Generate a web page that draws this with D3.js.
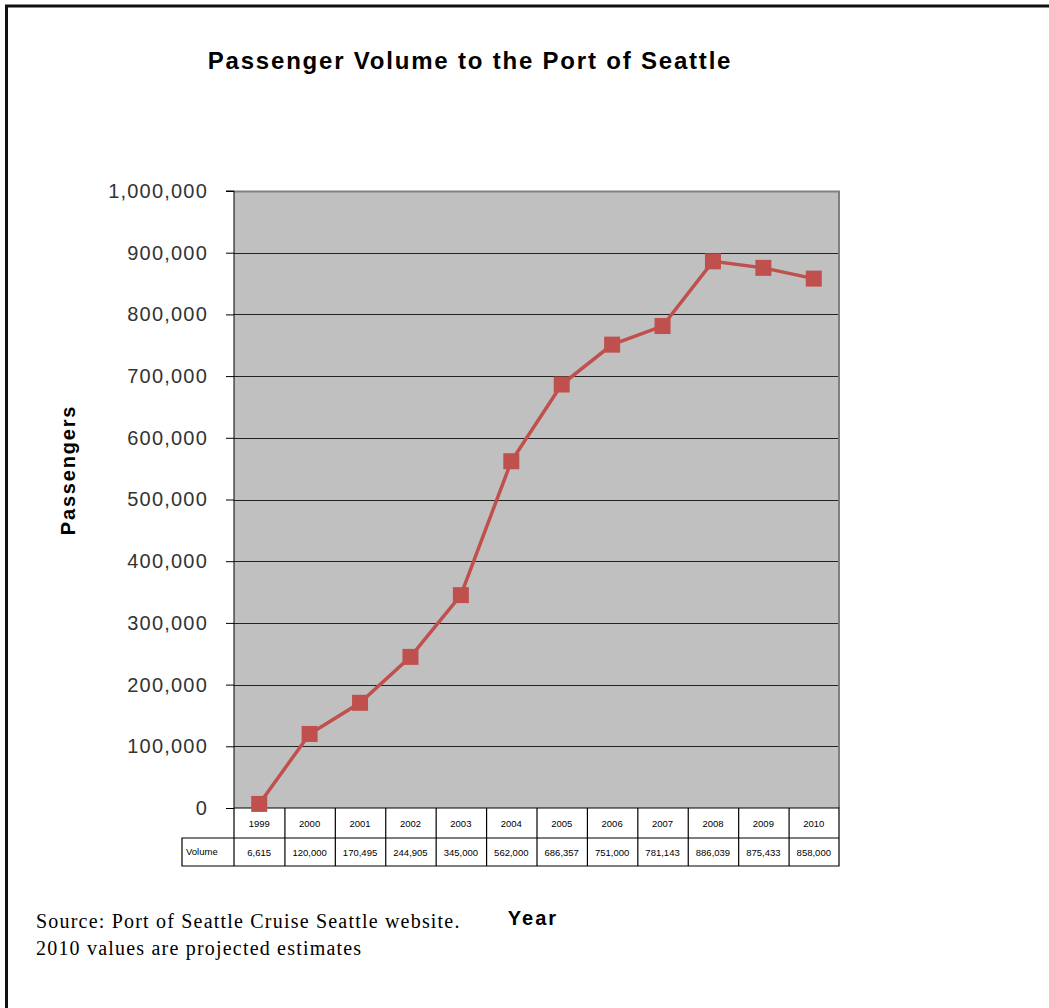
<!DOCTYPE html>
<html><head><meta charset="utf-8">
<script src="https://cdn.jsdelivr.net/npm/d3@7"></script>
<style>body{margin:0;background:#fff}svg{display:block}</style>
</head><body>
<script>
const years = ["1999","2000","2001","2002","2003","2004","2005","2006","2007","2008","2009","2010"];
const volume = [6615,120000,170495,244905,345000,562000,686357,751000,781143,886039,875433,858000];
const volumeLabels = ["6,615","120,000","170,495","244,905","345,000","562,000","686,357","751,000","781,143","886,039","875,433","858,000"];
const yTicks = [0,100000,200000,300000,400000,500000,600000,700000,800000,900000,1000000];

const W=1049,H=1008;
const svg=d3.select("body").append("svg").attr("width",W).attr("height",H);
svg.append("rect").attr("x",6.5).attr("y",6).attr("width",W+10).attr("height",H+10)
  .attr("fill","none").attr("stroke","#111").attr("stroke-width",3);

const L=234,R=839,T=191,B=808;
const x=d3.scaleBand().domain(years).range([L,R]).padding(0);
const y=d3.scaleLinear().domain([0,1000000]).range([B,T]);

svg.append("rect").attr("x",L).attr("y",T).attr("width",R-L).attr("height",B-T).attr("fill","#c0c0c0");
svg.append("g").selectAll("line").data(yTicks.filter(d=>d>0&&d<1000000)).join("line")
  .attr("x1",L).attr("x2",R).attr("y1",d=>Math.round(y(d))+0.5).attr("y2",d=>Math.round(y(d))+0.5)
  .attr("stroke","#222").attr("stroke-width",1.2);
svg.append("path").attr("d",`M${L},${T+0.5}H${R}V${B}`).attr("fill","none").attr("stroke","#808080").attr("stroke-width",2);

const yAxis=d3.axisLeft(y).tickValues(yTicks).tickFormat(d3.format(",")).tickSize(8).tickPadding(18);
const ya=svg.append("g").attr("transform",`translate(${L},0)`).call(yAxis);
ya.select(".domain").attr("stroke","#000").attr("d",`M-8,${T}H0V${B}`);
ya.selectAll(".tick line").attr("stroke","#000");
ya.selectAll("text").attr("font-family","Liberation Sans, Arial, sans-serif").attr("font-size",20)
  .attr("letter-spacing",1.2).attr("fill","#333");

const tg=svg.append("g").attr("font-family","Liberation Sans, Arial, sans-serif").attr("font-size",9.5).attr("fill","#000");
const r1=B, r2=838, r3=866, lx=182;
tg.append("path").attr("d",`M${L},${r1}H${R}V${r3}H${lx}V${r2}H${R}M${lx},${r2}H${L}M${L},${r1}V${r3}`)
  .attr("fill","none").attr("stroke","#000").attr("stroke-width",1.2);
tg.selectAll("line.v").data(years.slice(1)).join("line").attr("class","v")
  .attr("x1",d=>x(d)+0.5).attr("x2",d=>x(d)+0.5).attr("y1",r1).attr("y2",r3).attr("stroke","#000").attr("stroke-width",1.2);
tg.selectAll("text.yr").data(years).join("text").attr("class","yr")
  .attr("x",d=>x(d)+x.bandwidth()/2).attr("y",827).attr("text-anchor","middle").text(d=>d);
tg.selectAll("text.vl").data(volumeLabels).join("text").attr("class","vl")
  .attr("x",(d,i)=>x(years[i])+x.bandwidth()/2).attr("y",856).attr("text-anchor","middle").text(d=>d);
tg.append("text").attr("x",lx+4).attr("y",855).text("Volume");

const pts=years.map((yr,i)=>[x(yr)+x.bandwidth()/2,y(volume[i])]);
svg.append("path").attr("d",d3.line()(pts)).attr("fill","none").attr("stroke","#c0504d").attr("stroke-width",3.5);
svg.append("g").selectAll("rect").data(pts).join("rect")
  .attr("x",d=>d[0]-8).attr("y",d=>d[1]-8).attr("width",16).attr("height",16).attr("fill","#c0504d");

svg.append("text").attr("x",470).attr("y",69).attr("text-anchor","middle")
  .attr("font-family","Liberation Sans, Arial, sans-serif").attr("font-weight","bold").attr("font-size",24)
  .attr("letter-spacing",1.8).text("Passenger Volume to the Port of Seattle");
svg.append("text").attr("transform","translate(75,470) rotate(-90)").attr("text-anchor","middle")
  .attr("font-family","Liberation Sans, Arial, sans-serif").attr("font-weight","bold").attr("font-size",20)
  .attr("letter-spacing",1.8).text("Passengers");
svg.append("text").attr("x",533).attr("y",925).attr("text-anchor","middle")
  .attr("font-family","Liberation Sans, Arial, sans-serif").attr("font-weight","bold").attr("font-size",20)
  .attr("letter-spacing",2).text("Year");
const src=svg.append("g").attr("font-family","Liberation Serif, Times New Roman, serif").attr("font-size",20)
  .attr("letter-spacing",1.2).attr("fill","#000");
src.append("text").attr("x",36).attr("y",928).text("Source: Port of Seattle Cruise Seattle website.");
src.append("text").attr("x",36).attr("y",955).text("2010 values are projected estimates");
</script>
</body></html>
